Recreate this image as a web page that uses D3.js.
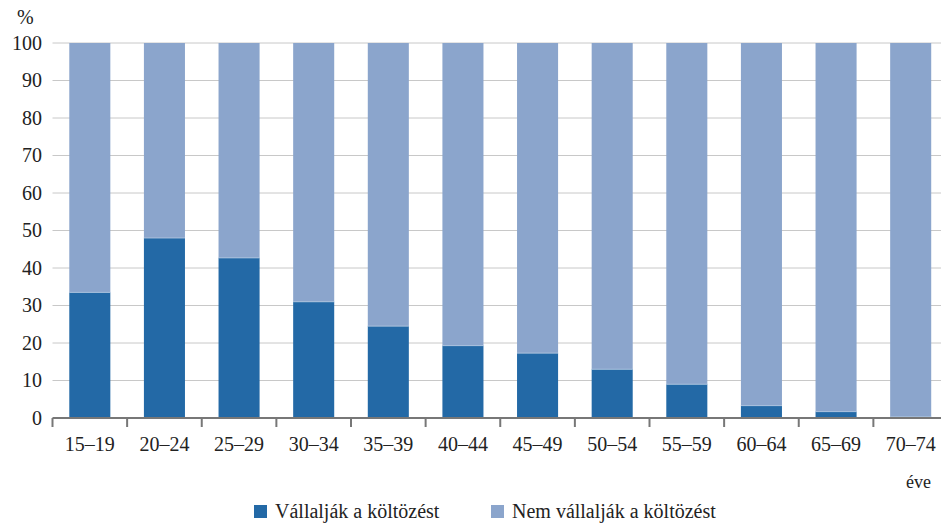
<!DOCTYPE html>
<meta charset="utf-8">
<style>
  body { margin: 0; background: #fff; }
  svg text { font-family: "Liberation Serif", serif; }
</style>
<svg id="chart" width="941" height="525"></svg>

<script src="https://d3js.org/d3.v7.min.js"></script>
<script>

// age groups and shares (%)
var ageGroups = ["15–19", "20–24", "25–29", "30–34", "35–39", "40–44", "45–49", "50–54", "55–59", "60–64", "65–69", "70–74"]
var willing = [33.5, 48, 42.7, 31, 24.5, 19.3, 17.3, 13, 9, 3.3, 1.7, 0.3]
var notWilling = [66.5, 52, 57.3, 69, 75.5, 80.7, 82.7, 87, 91, 96.7, 98.3, 99.7]
var yTicks = [0, 10, 20, 30, 40, 50, 60, 70, 80, 90, 100]
var seriesNames = ["Vállalják a költözést", "Nem vállalják a költözést"]
var colors = ["#2369a6", "#8ba5cc"]

var svg = d3.select("#chart")
var plotLeft = 52.5, plotRight = 948, plotTop = 43, plotBottom = 418
var textColor = "#222"
var fontFamily = "Liberation Serif"

var x = d3.scaleBand().domain(ageGroups).range([plotLeft, plotRight]).paddingInner(0.45).paddingOuter(0.225)
var y = d3.scaleLinear().domain([0, 100]).range([plotBottom, plotTop])

// gridlines
svg.append("g")
  .selectAll("line")
  .data(yTicks.filter(function(d) { return d > 0 }))
  .enter().append("line")
  .attr("x1", plotLeft).attr("x2", 941)
  .attr("y1", function(d) { return y(d) }).attr("y2", function(d) { return y(d) })
  .attr("stroke", "#c8c8c8").attr("stroke-width", 1)

// y labels
svg.append("g")
  .selectAll("text")
  .data(yTicks)
  .enter().append("text")
  .attr("x", 42).attr("y", function(d) { return y(d) + 6.5 })
  .attr("text-anchor", "end")
  .attr("fill", textColor)
  .style("font-family", fontFamily)
  .style("font-size", "20px")
  .text(function(d) { return d })

svg.append("text").attr("x", 17).attr("y", 24).attr("fill", textColor)
  .style("font-family", fontFamily).style("font-size", "20px").text("%")

// stacked bars
var rows = ageGroups.map(function(g, i) { return { group: g, a: willing[i], b: notWilling[i] } })
var bars = svg.append("g")
bars.selectAll("rect.b")
  .data(rows).enter().append("rect")
  .attr("x", function(d) { return x(d.group) })
  .attr("width", x.bandwidth())
  .attr("y", function(d) { return y(d.a + d.b) })
  .attr("height", function(d) { return y(d.a) - y(d.a + d.b) })
  .attr("fill", colors[1])
bars.selectAll("rect.a")
  .data(rows).enter().append("rect")
  .attr("x", function(d) { return x(d.group) })
  .attr("width", x.bandwidth())
  .attr("y", function(d) { return y(d.a) })
  .attr("height", function(d) { return y(0) - y(d.a) })
  .attr("fill", colors[0])
bars.selectAll("line.sep")
  .data(rows).enter().append("line")
  .attr("x1", function(d) { return x(d.group) })
  .attr("x2", function(d) { return x(d.group) + x.bandwidth() })
  .attr("y1", function(d) { return y(d.a) }).attr("y2", function(d) { return y(d.a) })
  .attr("stroke", "#b9cbe3").attr("stroke-width", 0.8)

// x axis
var step = x.step()
svg.append("line")
  .attr("x1", plotLeft).attr("x2", 941).attr("y1", plotBottom).attr("y2", plotBottom)
  .attr("stroke", "#777").attr("stroke-width", 2)
svg.append("g")
  .selectAll("line")
  .data(ageGroups)
  .enter().append("line")
  .attr("x1", function(d) { return x(d) + x.bandwidth() / 2 - step / 2 })
  .attr("x2", function(d) { return x(d) + x.bandwidth() / 2 - step / 2 })
  .attr("y1", plotBottom).attr("y2", plotBottom + 9)
  .attr("stroke", "#777").attr("stroke-width", 2)
svg.append("g")
  .selectAll("text")
  .data(ageGroups)
  .enter().append("text")
  .attr("x", function(d) { return x(d) + x.bandwidth() / 2 })
  .attr("y", 451)
  .attr("text-anchor", "middle")
  .attr("fill", textColor)
  .style("font-family", fontFamily)
  .style("font-size", "20px")
  .text(function(d) { return d })

svg.append("text").attr("x", 906).attr("y", 488).attr("fill", textColor)
  .style("font-family", fontFamily).style("font-size", "18px").text("éve")

// legend
var legend = svg.append("g")
var legendX = [254, 491]
seriesNames.forEach(function(name, i) {
  legend.append("rect").attr("x", legendX[i]).attr("y", 505).attr("width", 13).attr("height", 13).attr("fill", colors[i])
  legend.append("text").attr("x", legendX[i] + 21).attr("y", 518).attr("fill", textColor)
    .style("font-family", fontFamily).style("font-size", "20px").text(name)
})

</script>
